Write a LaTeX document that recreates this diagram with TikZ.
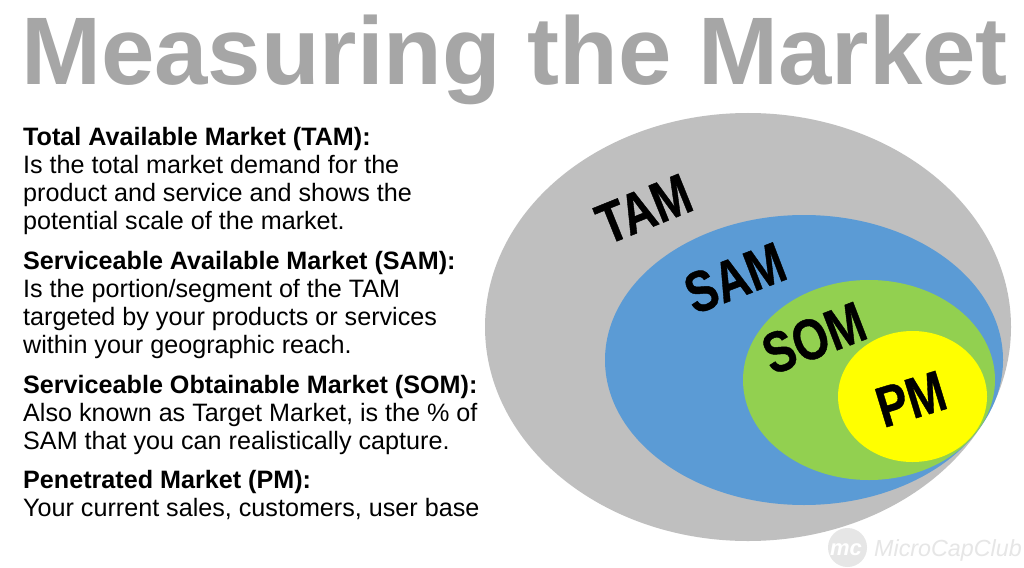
\documentclass[tikz,border=0pt]{standalone}
\usepackage{fontspec}
\setmainfont{Liberation Sans}
\newfontfamily\marketfont[BoldFeatures={FakeBold=0.8}]{Liberation Sans}
\definecolor{tamgray}{HTML}{BFBFBF}
\definecolor{samblue}{HTML}{5B9BD5}
\definecolor{somgreen}{HTML}{92D050}
\definecolor{pmyellow}{HTML}{FFFF00}
\definecolor{titlegray}{HTML}{A6A6A6}
\definecolor{markgray}{HTML}{E6E6E6}
\tikzset{
	marketlabel/.style={font=\fontsize{46}{46}\selectfont\marketfont\bfseries,inner sep=0pt,yscale=1.25},
	blocktext/.style={anchor=north west,align=left,inner sep=0pt,font=\fontsize{25.15}{28}\selectfont},
}
\begin{document}
\begin{tikzpicture}[x=1pt,y=-1pt]
	\useasboundingbox (0,0) rectangle (1024,567);
	\fill[color=white] (0,0) rectangle (1024,567);
	\node[anchor=base,inner sep=0pt,color=titlegray,font=\fontsize{96}{96}\selectfont\bfseries] (title) at (514.5,85) {Measuring the Market};
	\node[blocktext] (tam text) at (23,127) {\textbf{Total Available Market (TAM):}\\Is the total market demand for the\\product and service and shows the\\potential scale of the market.};
	\node[blocktext] (sam text) at (23,251) {\textbf{Serviceable Available Market (SAM):}\\Is the portion/segment of the TAM\\targeted by your products or services\\within your geographic reach.};
	\node[blocktext] (som text) at (23,375) {\textbf{Serviceable Obtainable Market (SOM):}\\Also known as Target Market, is the \% of\\SAM that you can realistically capture.};
	\node[blocktext] (pm text) at (23,470) {\textbf{Penetrated Market (PM):}\\Your current sales, customers, user base};
	\fill[color=tamgray] (748,327) ellipse[x radius=263,y radius=214];
	\fill[color=samblue] (804,360) ellipse[x radius=199,y radius=145];
	\fill[color=somgreen] (869,380) ellipse[x radius=126,y radius=100];
	\fill[color=pmyellow] (912.5,396.5) ellipse[x radius=74.5,y radius=65.5];
	\node[rotate=22,marketlabel] (tam) at (644,209) {TAM};
	\node[rotate=21,marketlabel] (sam) at (735,278) {SAM};
	\node[rotate=21,marketlabel] (som) at (814,338) {SOM};
	\node[rotate=17,marketlabel] (pm) at (911,399) {PM};
	\fill[color=markgray] (847.5,547.5) circle[radius=19.5];
	\node[color=white,inner sep=0pt,font=\fontsize{22}{22}\selectfont\bfseries\itshape] (mark logo) at (846,550) {mc};
	\node[anchor=base west,color=markgray,inner sep=0pt,font=\fontsize{23.3}{24}\selectfont\itshape] (mark name) at (874,556) {MicroCapClub};
\end{tikzpicture}
\end{document}
